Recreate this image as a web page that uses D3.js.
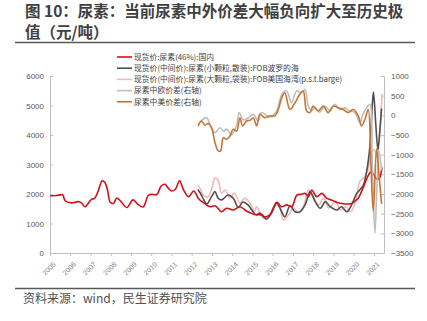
<!DOCTYPE html>
<html>
<head>
<meta charset="utf-8">
<script src="https://cdn.jsdelivr.net/npm/d3@7"></script>
<style>
  body { margin: 0; background: #fff; }
  svg { font-family: "Noto Sans CJK SC", "Noto Sans", sans-serif; }
</style>
</head>
<body>
<svg id="chart" width="427" height="321"></svg>
<script>
// [year, value] pairs
const domestic = [[2005.0,1940],[2005.3,1950],[2005.5,1970],[2005.62,1980],[2005.75,1770],[2006.05,1700],[2006.4,1740],[2006.55,1700],[2006.73,1570],[2007.05,1820],[2007.2,1850],[2007.37,2080],[2007.58,2450],[2007.72,2380],[2007.85,2100],[2007.97,1730],[2008.13,1680],[2008.3,1860],[2008.54,1720],[2008.79,1540],[2009.1,1800],[2009.36,1640],[2009.6,1560],[2009.85,1950],[2010.0,1990],[2010.27,1980],[2010.5,2280],[2010.68,2330],[2010.84,2200],[2011.0,2100],[2011.2,2170],[2011.4,2450],[2011.6,2135],[2011.85,1910],[2012.1,2100],[2012.35,1830],[2012.6,1700],[2012.9,1570],[2013.15,1600],[2013.48,1400],[2013.72,1515],[2014.05,1460],[2014.38,1570],[2014.7,1425],[2014.95,1345],[2015.2,1290],[2015.37,1350],[2015.6,1230],[2015.86,1290],[2016.2,1720],[2016.44,1570],[2016.7,1630],[2016.94,1570],[2017.2,1966],[2017.43,1990],[2017.6,2020],[2017.77,1910],[2017.93,2135],[2018.18,1910],[2018.43,2020],[2018.68,1850],[2018.9,1800],[2019.24,1700],[2019.57,1660],[2019.9,1680],[2020.06,1760],[2020.22,1850],[2020.4,2100],[2020.55,2350],[2020.7,2600],[2020.85,2750],[2021.0,2650],[2021.15,2500],[2021.28,2550],[2021.4,2900]];

const blackSea = [[2012.3,2150],[2012.45,2000],[2012.6,1800],[2012.74,1660],[2012.98,1910],[2013.15,2080],[2013.3,1860],[2013.48,1800],[2013.8,1966],[2014.05,1860],[2014.3,1540],[2014.53,1730],[2014.78,1630],[2015.03,1400],[2015.15,1310],[2015.45,1290],[2015.7,1150],[2015.94,1355],[2016.2,1685],[2016.36,1525],[2016.6,1230],[2016.86,1600],[2017.1,1400],[2017.35,1400],[2017.6,1630],[2017.85,2080],[2018.1,1740],[2018.35,1515],[2018.6,1740],[2018.84,1570],[2019.17,1460],[2019.4,1570],[2019.66,1400],[2019.9,1630],[2020.15,2020],[2020.3,2135],[2020.48,2305],[2020.64,2755],[2020.8,3600],[2020.92,5000],[2020.98,5460],[2021.1,4300],[2021.2,3500],[2021.3,4200],[2021.38,4900]];

const usGulf = [[2012.3,2300],[2012.45,2150],[2012.57,1966],[2012.8,1900],[2013.0,2200],[2013.15,2540],[2013.3,2475],[2013.48,2030],[2013.65,2135],[2013.9,1860],[2014.1,2030],[2014.38,1700],[2014.62,1860],[2014.87,1700],[2015.1,1400],[2015.2,1570],[2015.53,1190],[2015.78,1230],[2016.03,1525],[2016.28,1685],[2016.53,1120],[2016.78,1290],[2017.03,1525],[2017.27,1355],[2017.52,1570],[2017.77,2135],[2018.0,1910],[2018.27,1630],[2018.52,1860],[2018.77,1525],[2019.1,1740],[2019.35,1460],[2019.6,1570],[2019.85,1400],[2020.1,1740],[2020.3,2420],[2020.5,2540],[2020.7,2800],[2020.85,3300],[2021.0,3500],[2021.15,3300],[2021.25,3700],[2021.4,5400]];

const spreadEurope = [[2012.32,-230],[2012.5,-120],[2012.74,-60],[2012.95,-300],[2013.15,-440],[2013.4,-315],[2013.56,-400],[2013.73,-350],[2013.97,-500],[2014.22,-250],[2014.35,70],[2014.55,-115],[2014.8,-60],[2015.04,25],[2015.29,-145],[2015.45,70],[2015.86,-40],[2016.2,110],[2016.36,400],[2016.5,575],[2016.69,620],[2016.93,320],[2017.18,620],[2017.43,575],[2017.59,660],[2017.76,235],[2017.92,120],[2018.09,190],[2018.33,80],[2018.58,235],[2018.83,110],[2019.07,280],[2019.32,150],[2019.57,190],[2019.81,110],[2020.06,70],[2020.31,-190],[2020.47,40],[2020.64,190],[2020.8,280],[2020.92,-1200],[2021.05,-3000],[2021.15,-1800],[2021.25,-900],[2021.38,-1400]];

const spreadUS = [[2012.32,-270],[2012.48,-145],[2012.65,-245],[2012.81,-210],[2012.98,-310],[2013.15,-695],[2013.31,-905],[2013.43,-905],[2013.56,-570],[2013.73,-610],[2013.89,-525],[2014.05,-355],[2014.22,-400],[2014.38,-60],[2014.52,-270],[2014.71,-145],[2014.88,-125],[2015.04,-60],[2015.21,-270],[2015.37,25],[2015.62,-60],[2015.86,-15],[2016.11,-15],[2016.28,150],[2016.45,450],[2016.6,575],[2016.85,150],[2017.1,320],[2017.34,535],[2017.51,620],[2017.68,110],[2017.84,70],[2018.0,235],[2018.25,110],[2018.5,235],[2018.74,70],[2018.99,235],[2019.24,190],[2019.48,150],[2019.73,70],[2019.98,150],[2020.23,-15],[2020.39,-270],[2020.56,-100],[2020.72,150],[2020.85,-1200],[2020.97,-2440],[2021.13,-860],[2021.25,-1500],[2021.38,-2250]];

const years = d3.range(2005, 2022);
const leftTicks = d3.range(0, 6001, 1000);
const rightTicks = d3.range(-3500, 1001, 500);

const legendItems = [
  {label: "现货价:尿素(46%):国内", color: "#d2121a"},
  {label: "现货价(中间价):尿素(小颗粒,散装):FOB波罗的海", color: "#505050"},
  {label: "现货价(中间价):尿素(大颗粒,袋装):FOB美国海湾(p.s.t.barge)", color: "#f3b9b9"},
  {label: "尿素中欧价差(右轴)", color: "#bdbdbd"},
  {label: "尿素中美价差(右轴)", color: "#c57636"}
];

const svg = d3.select("#chart");

// title
svg.append("text").attr("x", 25).attr("y", 17)
  .attr("font-size", 15.5).attr("font-weight", "bold").attr("fill", "#404040")
  .text("图 10：尿素：当前尿素中外价差大幅负向扩大至历史极");
svg.append("text").attr("x", 25).attr("y", 37.5)
  .attr("font-size", 15.5).attr("font-weight", "bold").attr("fill", "#404040")
  .text("值（元/吨）");
svg.append("line").attr("x1", 15).attr("x2", 415).attr("y1", 42.5).attr("y2", 42.5)
  .attr("stroke", "#595959").attr("stroke-width", 1.5);

// footer
svg.append("line").attr("x1", 15).attr("x2", 415).attr("y1", 288.5).attr("y2", 288.5)
  .attr("stroke", "#595959").attr("stroke-width", 1.5);
svg.append("text").attr("x", 23).attr("y", 303)
  .attr("font-size", 12).attr("fill", "#505050")
  .text("资料来源：wind，民生证券研究院");

let x = d3.scaleLinear().domain([2005, 2021.5]).range([50, 384]);
let yL = d3.scaleLinear().domain([0, 6000]).range([253, 76]);
let yR = d3.scaleLinear().domain([-3500, 1000]).range([253, 76]);

const axisColor = "#bfbfbf", labelColor = "#595959";

function styleAxis(g) {
  g.select(".domain").attr("stroke", axisColor);
  g.selectAll(".tick line").attr("stroke", axisColor);
  g.selectAll(".tick text").attr("fill", labelColor).attr("font-size", 8);
}

svg.append("g").attr("transform", "translate(50,0)")
  .call(d3.axisLeft(yL).tickValues(leftTicks).tickSize(-3).tickSizeOuter(0).tickPadding(6).tickFormat(d3.format("d")))
  .call(styleAxis);

svg.append("g").attr("transform", "translate(384,0)")
  .call(d3.axisRight(yR).tickValues(rightTicks).tickSize(-3).tickSizeOuter(0).tickPadding(7).tickFormat(d3.format("d")))
  .call(styleAxis);

let xg = svg.append("g").attr("transform", "translate(0,253)")
  .call(d3.axisBottom(x).tickValues(years).tickSize(3).tickSizeOuter(0).tickFormat(d3.format("d")))
  .call(styleAxis);
xg.selectAll(".tick text")
  .attr("y", 0).attr("dy", "0.35em").attr("x", 0)
  .attr("text-anchor", "end")
  .attr("font-size", 7)
  .attr("fill", "#7f7f7f")
  .attr("transform", "translate(4,10) rotate(-45)");

let lineL = d3.line().x(d => x(d[0])).y(d => yL(d[1])).curve(d3.curveCatmullRom.alpha(0.5));
let lineR = d3.line().x(d => x(d[0])).y(d => yR(d[1])).curve(d3.curveCatmullRom.alpha(0.5));

const series = [
  {data: domestic, line: lineL, color: legendItems[0].color},
  {data: blackSea, line: lineL, color: legendItems[1].color},
  {data: usGulf, line: lineL, color: legendItems[2].color},
  {data: spreadEurope, line: lineR, color: legendItems[3].color},
  {data: spreadUS, line: lineR, color: legendItems[4].color}
];

// pink and dark first, red over them, spreads on top
[2, 1, 0, 3, 4].forEach(i => {
  let s = series[i];
  svg.append("path")
    .datum(s.data)
    .attr("fill", "none")
    .attr("stroke", s.color)
    .attr("stroke-width", 1.6)
    .attr("stroke-linejoin", "round")
    .attr("d", s.line);
});

// legend
let legend = svg.append("g").attr("transform", "translate(117,57)");
legendItems.forEach((d, i) => {
  let row = legend.append("g").attr("transform", `translate(0,${i * 11.2})`);
  row.append("line").attr("x1", 0).attr("x2", 15).attr("stroke", d.color).attr("stroke-width", 1.6);
  row.append("text").attr("x", 17).attr("dy", "0.35em")
    .attr("font-size", 7.8).attr("fill", "#404040").text(d.label);
});
</script>
</body>
</html>
